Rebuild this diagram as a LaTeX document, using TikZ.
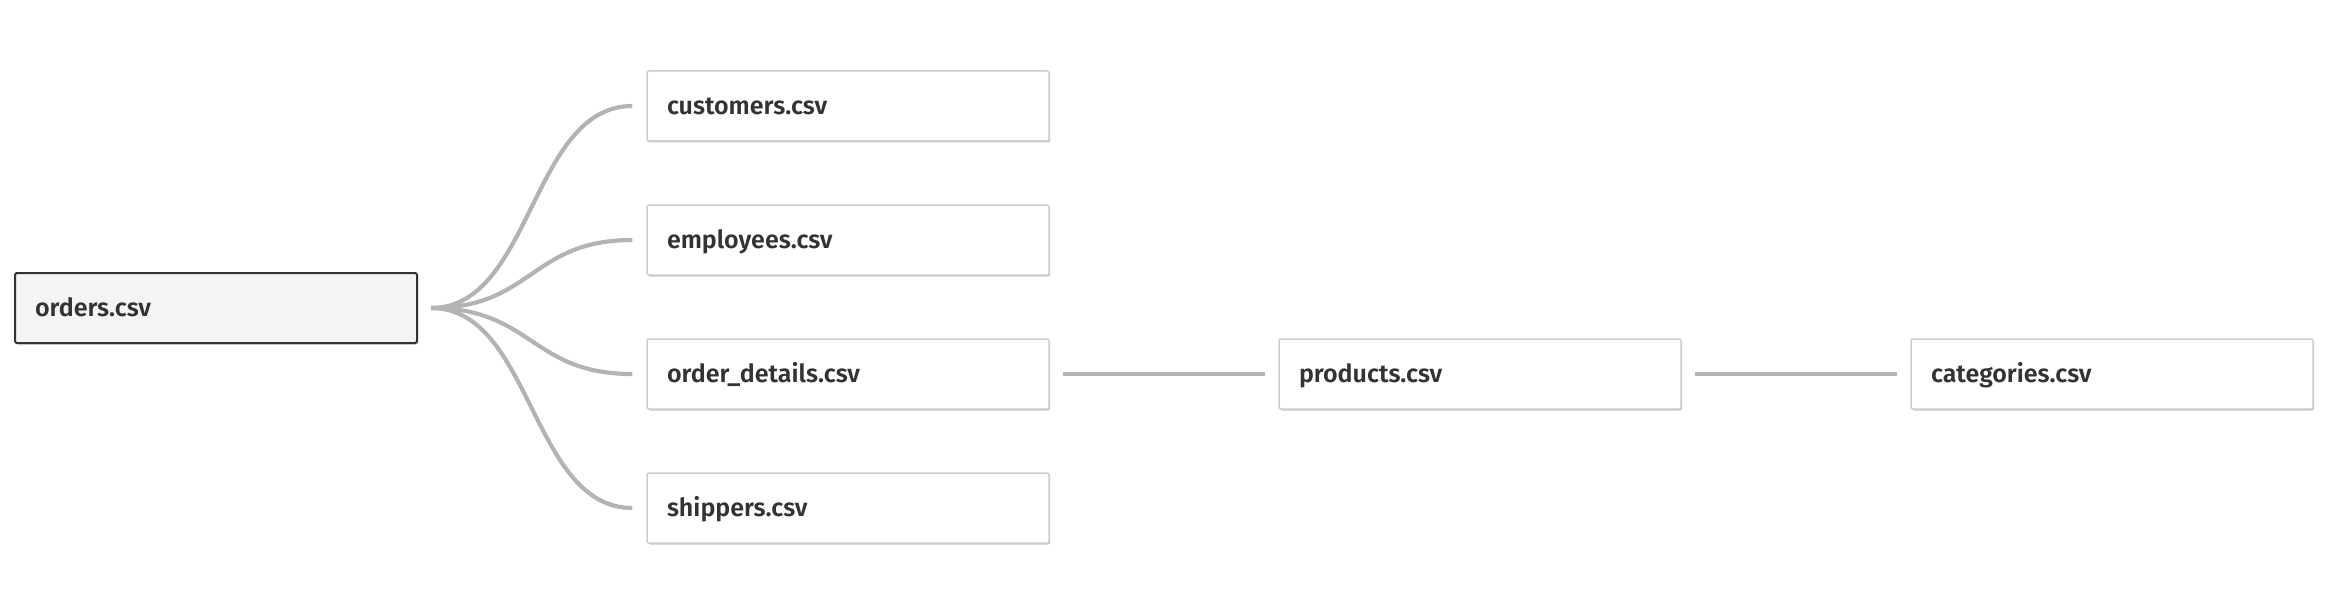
\documentclass[tikz,border=0pt]{standalone}
\usepackage{fontspec}
\setmainfont{Fira Sans}
\newfontfamily\lblfont{Fira Sans SemiBold}
\usetikzlibrary{shadows}
\definecolor{edgec}{HTML}{B3B3B3}
\definecolor{boxc}{HTML}{CCCCCC}
\definecolor{txtc}{HTML}{333333}
\definecolor{rootfill}{HTML}{F4F4F4}
\begin{document}
\begin{tikzpicture}[x=0.3pt,y=-0.3pt,
  tbl/.style={draw=boxc, line width=0.45pt, fill=white, rounded corners=0.6pt,
    minimum width=120.6pt, minimum height=21pt, text width=108.6pt,
    text height=5pt, text depth=0pt,
    inner xsep=6pt, inner ysep=0pt, align=left,
    font=\lblfont\fontsize{7.5}{9}\selectfont, text=txtc,
    drop shadow={shadow xshift=0.35pt, shadow yshift=-0.45pt, opacity=0.22, fill=black}},
  roottbl/.style={tbl, draw=txtc, line width=0.6pt, fill=rootfill},
  link/.style={draw=edgec, line width=1.25pt}]
\useasboundingbox (0,0) rectangle (2340,616);
\node[roottbl] (orders) at (216,308) {orders.csv};
\node[tbl] (cust) at (848,106) {customers.csv};
\node[tbl] (emp) at (848,240) {employees.csv};
\node[tbl] (od) at (848,374) {order\_details.csv};
\node[tbl] (ship) at (848,508) {shippers.csv};
\node[tbl] (prod) at (1480,374) {products.csv};
\node[tbl] (cat) at (2112,374) {categories.csv};
\coordinate (s) at ([xshift=3.9pt]orders.east);
\foreach \t in {cust,emp,od,ship}{
  \draw[link] (s) .. controls +(30.45pt,0) and +(-30.45pt,0) .. ([xshift=-4.2pt]\t.west);
}
\draw[link] ([xshift=3.9pt]od.east) -- ([xshift=-3.9pt]prod.west);
\draw[link] ([xshift=3.9pt]prod.east) -- ([xshift=-3.9pt]cat.west);
\end{tikzpicture}
\end{document}
